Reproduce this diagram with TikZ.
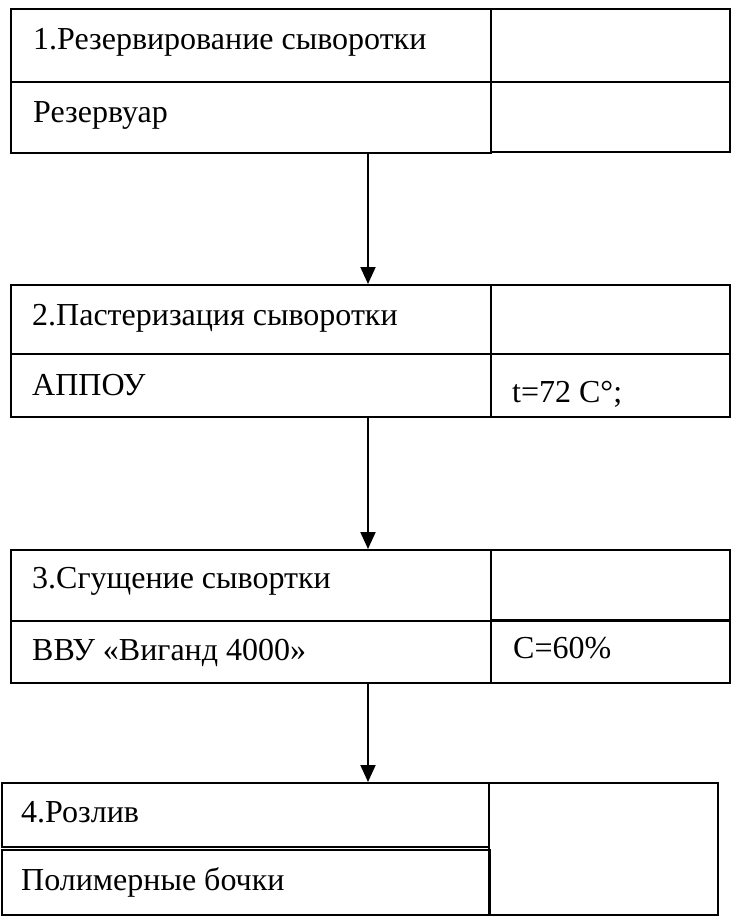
\documentclass[tikz,border=0pt]{standalone}
\usepackage{fontspec}
\setmainfont{Liberation Serif}
\usetikzlibrary{arrows.meta}
\begin{document}
\begin{tikzpicture}[x=1pt,y=-1pt,
  cell/.style={draw,line width=2pt,inner sep=0pt,anchor=north west},
  txt/.style={inner sep=0pt,anchor=base west,font=\fontsize{32}{36}\selectfont},
  flow/.style={line width=2pt,-{Triangle[width=15pt,length=17pt]}}]
\useasboundingbox (0,0) rectangle (731,921);
% block 1
\node[cell,minimum width=480pt,minimum height=73pt] (a1) at (10,8) {};
\node[cell,minimum width=480pt,minimum height=71pt] (a2) at (10,81) {};
\node[cell,minimum width=239pt,minimum height=73pt] (ar1) at (490,8) {};
\node[cell,minimum width=239pt,minimum height=70pt] (ar2) at (490,81) {};
% block 2
\node[cell,minimum width=480pt,minimum height=69pt] (b1) at (10,284) {};
\node[cell,minimum width=480pt,minimum height=63pt] (b2) at (10,353) {};
\node[cell,minimum width=239pt,minimum height=69pt] (br1) at (490,284) {};
\node[cell,minimum width=239pt,minimum height=63pt] (br2) at (490,353) {};
% block 3
\node[cell,minimum width=480pt,minimum height=71pt] (c1) at (10,549) {};
\node[cell,minimum width=480pt,minimum height=62pt] (c2) at (10,620) {};
\node[cell,minimum width=239pt,minimum height=71pt] (cr1) at (490,549) {};
\node[cell,minimum width=239pt,minimum height=63pt] (cr2) at (490,619) {};
% block 4
\node[cell,minimum width=487pt,minimum height=64pt] (d1) at (1,782) {};
\node[cell,minimum width=488pt,minimum height=65pt] (d2) at (1,849) {};
\node[cell,minimum width=229pt,minimum height=132pt] (dr) at (488,782) {};
% texts
\node[txt] (t1) at (33,49) {1.Резервирование сыворотки};
\node[txt] (t2) at (33,122) {Резервуар};
\node[txt] (t3) at (32,325) {2.Пастеризация сыворотки};
\node[txt] (t4) at (32,395) {АППОУ};
\node[txt] (t5) at (512,402) {t=72 C°;};
\node[txt] (t6) at (32,588) {3.Сгущение сывортки};
\node[txt] (t7) at (32,660) {ВВУ «Виганд 4000»};
\node[txt] (t8) at (513,658) {C=60\%};
\node[txt] (t9) at (21,822) {4.Розлив};
\node[txt] (t10) at (21,890) {Полимерные бочки};
% connectors
\coordinate (ax) at (368,0);
\draw[flow] (a2.south -| ax) -- (b1.north -| ax);
\draw[flow] (b2.south -| ax) -- (c1.north -| ax);
\draw[flow] (c2.south -| ax) -- (d1.north -| ax);
\end{tikzpicture}
\end{document}
